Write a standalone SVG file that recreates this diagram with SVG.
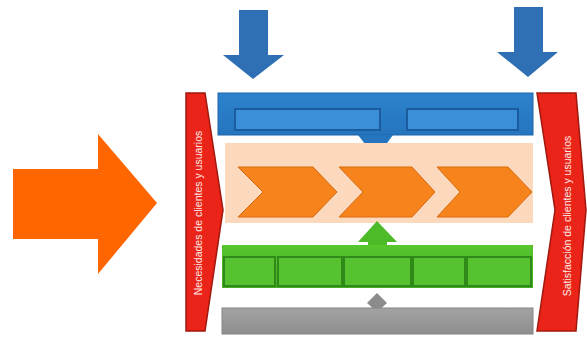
<svg xmlns="http://www.w3.org/2000/svg" width="587" height="340" viewBox="0 0 587 340">
  <defs>
    <style>
      .bluearrow { fill: #2F6FB3; }
      .red { fill: #EA2418; stroke: #A0180F; stroke-width: 1.5; }
      .redtxt { fill: #FFE9E6; font-family: "Liberation Sans", Arial, sans-serif; font-size: 10.5px; text-anchor: middle; dominant-baseline: central; }
      .bluebox { fill: #3A8FD8; stroke: #1B5C9E; stroke-width: 2; }
      .chev { fill: #F7831C; stroke: #D86A0C; stroke-width: 1; }
      .greenbox { fill: #56C22F; stroke: #2F8A19; stroke-width: 2; }
    </style>
    <linearGradient id="gBlue" x1="0" y1="0" x2="0" y2="1">
      <stop offset="0" stop-color="#2D82CC"/>
      <stop offset="1" stop-color="#2574BE"/>
    </linearGradient>
    <linearGradient id="gGreen" x1="0" y1="0" x2="0" y2="1">
      <stop offset="0" stop-color="#57C52E"/>
      <stop offset="1" stop-color="#43AE22"/>
    </linearGradient>
    <linearGradient id="gGray" x1="0" y1="0" x2="0" y2="1">
      <stop offset="0" stop-color="#A3A3A3"/>
      <stop offset="1" stop-color="#8E8E8E"/>
    </linearGradient>
  </defs>
  <rect width="587" height="340" fill="#FFFFFF"/>

  <g id="input-arrow">
    <polygon points="13,169 98,169 98,134 157,203 98,274 98,239 13,239" fill="#FF6600"/>
  </g>

  <g id="arrow-down-1">
    <polygon class="bluearrow" points="239,10 268,10 268,55 284,55 253,79 223,55 239,55"/>
  </g>
  <g id="arrow-down-2">
    <polygon class="bluearrow" points="514,7 543,7 543,52 558,52 528,77 497,52 514,52"/>
  </g>

  <g id="needs">
    <polygon class="red" points="186,93 205,93 223,210 205,331 186,331"/>
    <text class="redtxt" transform="translate(198,213) rotate(-90)">Necesidades de clientes y usuarios</text>
  </g>

  <g id="satisfaction">
    <polygon class="red" points="537,93 576,93 586,210 576,331 537,331 555,210"/>
    <text class="redtxt" transform="translate(567,216) rotate(-90)">Satisfacción de clientes y usuarios</text>
  </g>

  <g id="strategic-band">
    <rect x="218" y="93" width="315" height="42" fill="url(#gBlue)" stroke="#1E64A8" stroke-width="1"/>
    <rect class="bluebox" x="235" y="109" width="145" height="21"/>
    <rect class="bluebox" x="407" y="109" width="111" height="21"/>
    <polygon points="358,135 393,135 376,158" fill="#2574BE"/>
  </g>

  <g id="core-band">
    <rect x="225" y="143" width="308" height="80" fill="#FCD8BC"/>
    <polygon class="chev" points="238,167 313,167 337,192 313,217 238,217 263,192"/>
    <polygon class="chev" points="339,167 412,167 435,192 412,217 339,217 363,192"/>
    <polygon class="chev" points="437,167 508,167 532,192 508,217 437,217 460,192"/>
  </g>

  <g id="support-band">
    <polygon points="368,252 368,242 358,242 377,221 397,242 387,242 387,252" fill="#4CBB27"/>
    <rect x="222" y="245" width="311" height="43" fill="url(#gGreen)"/>
    <rect class="greenbox" x="224" y="257" width="51" height="29"/>
    <rect class="greenbox" x="278" y="257" width="64" height="29"/>
    <rect class="greenbox" x="344" y="257" width="67" height="29"/>
    <rect class="greenbox" x="413" y="257" width="52" height="29"/>
    <rect class="greenbox" x="467" y="257" width="64" height="29"/>
  </g>

  <g id="base-band">
    <polygon points="377,293 387,303 377,312 367,303" fill="#8C8C8C"/>
    <rect x="222" y="308" width="311" height="26" fill="url(#gGray)" stroke="#858585" stroke-width="1"/>
  </g>

  <g id="connectors"></g>
</svg>
